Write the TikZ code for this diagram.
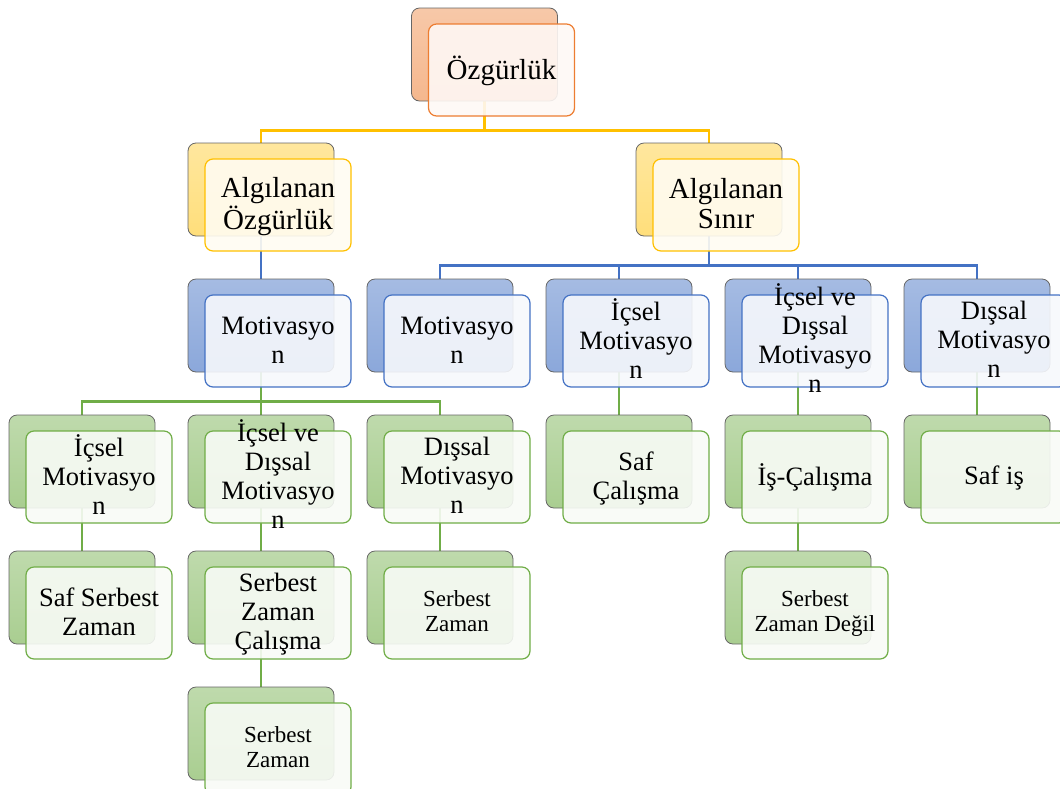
\documentclass[tikz,border=0pt]{standalone}
\usepackage{fontspec}
\setmainfont{Liberation Serif}
\usetikzlibrary{backgrounds}

\definecolor{orangeline}{HTML}{ED7D31}
\definecolor{goldline}{HTML}{FFC000}
\definecolor{blueline}{HTML}{4472C4}
\definecolor{greenline}{HTML}{70AD47}

% text of a front box, kept out of the box size
\newcommand{\boxtext}[1]{\smash{\raisebox{-0.3em}{\begin{tabular}{@{}c@{}}#1\end{tabular}}}}

\tikzset{
	backbox/.style={rounded corners=8pt, draw=black!60, line width=0.8pt, minimum width=146pt, minimum height=93pt},
	frontbox/.style={rounded corners=8pt, line width=1.2pt, minimum width=146pt, minimum height=92pt, fill opacity=0.9, text opacity=1, font=\fontsize{26.5}{29}\selectfont},
	bigtext/.style={font=\fontsize{29}{30}\selectfont},
	smalltext/.style={font=\fontsize{23}{25}\selectfont},
	orangeback/.style={backbox, top color=orangeline!42, bottom color=orangeline!55},
	orangefront/.style={frontbox, bigtext, draw=orangeline, fill=orangeline!5},
	goldback/.style={backbox, top color=goldline!38, bottom color=goldline!52},
	goldfront/.style={frontbox, bigtext, draw=goldline, fill=goldline!5},
	blueback/.style={backbox, top color=blueline!48, bottom color=blueline!62},
	bluefront/.style={frontbox, draw=blueline, fill=blueline!5},
	greenback/.style={backbox, top color=greenline!45, bottom color=greenline!60},
	greenfront/.style={frontbox, draw=greenline, fill=greenline!5},
	conn/.style={line width=2.3pt}
}

\begin{document}
\begin{tikzpicture}[x=1pt, y=1pt]
		\useasboundingbox (0,0) rectangle (1060,-788);

		% Top
		\node[orangeback] (ozgb) at (484.5,-54.5) {};
		\node[orangefront] (ozg) at (501.5,-70) {\boxtext{Özgürlük}};

		% Second row
		\node[goldback] (aozgb) at (261,-189.5) {};
		\node[goldfront] (aozg) at (278,-205) {\boxtext{Algılanan\\Özgürlük}};
		\node[goldback] (asinb) at (709,-189.5) {};
		\node[goldfront] (asin) at (726,-205) {\boxtext{Algılanan\\Sınır}};

		% Third row
		\node[blueback] (motb) at (261,-325.5) {};
		\node[bluefront] (mot) at (278,-341) {\boxtext{Motivasyo\\n}};
		\node[blueback] (smotb) at (440,-325.5) {};
		\node[bluefront] (smot) at (457,-341) {\boxtext{Motivasyo\\n}};
		\node[blueback] (sicb) at (619,-325.5) {};
		\node[bluefront] (sic) at (636,-341) {\boxtext{İçsel\\Motivasyo\\n}};
		\node[blueback] (sicdb) at (798,-325.5) {};
		\node[bluefront] (sicd) at (815,-341) {\boxtext{İçsel ve\\Dışsal\\Motivasyo\\n}};
		\node[blueback] (sdisb) at (977,-325.5) {};
		\node[bluefront] (sdis) at (994,-341) {\boxtext{Dışsal\\Motivasyo\\n}};

		% Fourth row
		\node[greenback] (icb) at (82,-461.5) {};
		\node[greenfront] (ic) at (99,-477) {\boxtext{İçsel\\Motivasyo\\n}};
		\node[greenback] (icdb) at (261,-461.5) {};
		\node[greenfront] (icd) at (278,-477) {\boxtext{İçsel ve\\Dışsal\\Motivasyo\\n}};
		\node[greenback] (disb) at (440,-461.5) {};
		\node[greenfront] (dis) at (457,-477) {\boxtext{Dışsal\\Motivasyo\\n}};
		\node[greenback] (safcb) at (619,-461.5) {};
		\node[greenfront] (safc) at (636,-477) {\boxtext{Saf\\Çalışma}};
		\node[greenback] (iscb) at (798,-461.5) {};
		\node[greenfront] (isc) at (815,-477) {\boxtext{İş-Çalışma}};
		\node[greenback] (safisb) at (977,-461.5) {};
		\node[greenfront] (safis) at (994,-477) {\boxtext{Saf iş}};

		% Fifth row
		\node[greenback] (safszb) at (82,-597.5) {};
		\node[greenfront] (safsz) at (99,-613) {\boxtext{Saf Serbest\\Zaman}};
		\node[greenback] (szcb) at (261,-597.5) {};
		\node[greenfront] (szc) at (278,-613) {\boxtext{Serbest\\Zaman\\Çalışma}};
		\node[greenback] (sz1b) at (440,-597.5) {};
		\node[greenfront, smalltext] (sz1) at (457,-613) {\boxtext{Serbest\\Zaman}};
		\node[greenback] (szdb) at (798,-597.5) {};
		\node[greenfront, smalltext] (szd) at (815,-613) {\boxtext{Serbest\\Zaman Değil}};

		% Last row
		\node[greenback] (sz2b) at (261,-733.5) {};
		\node[greenfront, smalltext] (sz2) at (278,-749) {\boxtext{Serbest\\Zaman}};

		% Connectors
		\begin{scope}[on background layer]
		\draw[conn, goldline] (ozgb.south) -- ++(0,-29) -| (aozgb.north);
		\draw[conn, goldline] (ozgb.south) -- ++(0,-29) -| (asinb.north);

		\draw[conn, blueline] (aozgb.south) -- (motb.north);
		\draw[conn, blueline] (asinb.south) -- ++(0,-29) -| (smotb.north);
		\draw[conn, blueline] (asinb.south) -- ++(0,-29) -| (sicb.north);
		\draw[conn, blueline] (asinb.south) -- ++(0,-29) -| (sicdb.north);
		\draw[conn, blueline] (asinb.south) -- ++(0,-29) -| (sdisb.north);

		\draw[conn, greenline] (motb.south) -- ++(0,-29) -| (icb.north);
		\draw[conn, greenline] (motb.south) -- ++(0,-29) -| (icdb.north);
		\draw[conn, greenline] (motb.south) -- ++(0,-29) -| (disb.north);
		\draw[conn, greenline] (sicb.south) -- (safcb.north);
		\draw[conn, greenline] (sicdb.south) -- (iscb.north);
		\draw[conn, greenline] (sdisb.south) -- (safisb.north);

		\draw[conn, greenline] (icb.south) -- (safszb.north);
		\draw[conn, greenline] (icdb.south) -- (szcb.north);
		\draw[conn, greenline] (disb.south) -- (sz1b.north);
		\draw[conn, greenline] (iscb.south) -- (szdb.north);
		\draw[conn, greenline] (szcb.south) -- (sz2b.north);
		\end{scope}
	\end{tikzpicture}
\end{document}
